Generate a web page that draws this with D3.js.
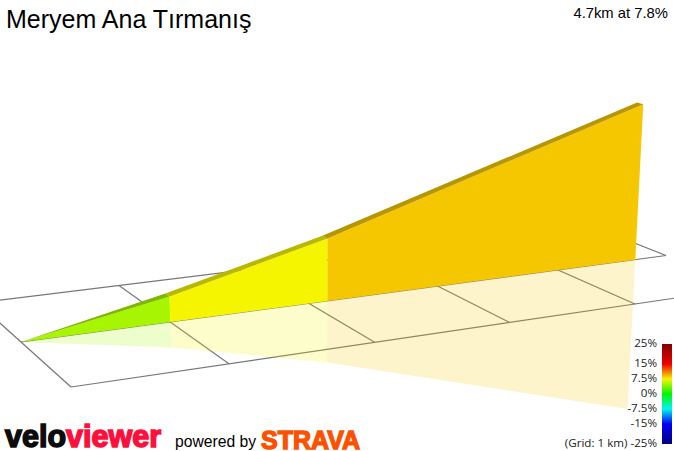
<!DOCTYPE html>
<html><head><meta charset="utf-8">
<script src="https://cdn.jsdelivr.net/npm/d3@7/dist/d3.min.js"></script>
<style>html,body{margin:0;padding:0;background:#fff;overflow:hidden}svg{display:block}</style>
</head><body><svg id="c" width="674" height="451"></svg>
<script>
// ---- data ----
const routeKm = [0, 1.0, 2.14, 4.68];
const routeElev = [0, 54, 137, 367];
const segmentGrade = [5.1, 7.5, 8.9];
const gridKmLines = [0, 1, 2, 3, 4];
const legendTicks = [25, 15, 7.5, 0, -7.5, -15, -25];
const legendColors = ["#800000", "#f00000", "#f5f500", "#00f500", "#00f5f5", "#0000f5", "#000080"];
const title = "Meryem Ana Tırmanış";
const summary = "4.7km at 7.8%";
// four ground-plane reference corners: (km 0, lane 0), (km 4, lane 0), (km 4, lane 1), (km 0, lane 1)
const groundCorners = [[21, 342], [558, 270], [635, 304], [71, 387]];

// ---- perspective of the ground plane ----
function homography(q) {
  const [[x0,y0],[x1,y1],[x2,y2],[x3,y3]] = q;
  const dx1=x1-x2, dx2=x3-x2, sx=x0-x1+x2-x3, dy1=y1-y2, dy2=y3-y2, sy=y0-y1+y2-y3;
  const den=dx1*dy2-dx2*dy1;
  const g=(sx*dy2-dx2*sy)/den, h=(dx1*sy-sx*dy1)/den;
  const a=x1-x0+g*x1, b=x3-x0+h*x3, d=y1-y0+g*y1, e=y3-y0+h*y3;
  return (u,v)=>{const w=g*u+h*v+1;return {x:(a*u+b*v+x0)/w,y:(d*u+e*v+y0)/w,w};};
}
const H = homography(groundCorners);
const kmScale = d3.scaleLinear().domain([0, 4]).range([0, 1]);
const elevScale = d3.scaleLinear().domain([0, 367]).range([0, 180]);
const vanishX = 327, vanishD = 6000, tilt = 0.02;
function project(km, lane, elev) {
  const b = H(kmScale(km), lane);
  const px = elevScale(elev) / (b.w * (1 - tilt * elev / 367));
  return [b.x + (b.x - vanishX) * px / vanishD, b.y - px];
}
const line = d3.line();

const gradeColor = d3.scaleLinear().domain(legendTicks).range(legendColors).interpolate(d3.interpolateRgb);
const svg = d3.select("#c");

// ---- ground grid ----
const grid = svg.append("g").attr("fill","none").attr("stroke","#777").attr("stroke-width",1.2);
const seg = (a,b)=>grid.append("path").attr("d",line([a,b]));
gridKmLines.forEach(k=>{ seg(project(k,-1,0), project(k,1,0)); });
seg(project(4.96,-1,0), project(4.96,0,0));
seg(project(0,-1,0), project(4.96,-1,0));
seg(project(0,0,0), project(4.96,0,0));
seg(project(0,1,0), project(6,1,0));

// ---- wall, reflection, top ribbon ----
const laneBack = -0.08;
const segs = segmentGrade.map((g,i)=>({g, k0:routeKm[i], k1:routeKm[i+1], e0:routeElev[i], e1:routeElev[i+1]}));
const refl = svg.append("g"), wall = svg.append("g"), rib = svg.append("g");
refl.selectAll("path").data(segs).join("path")
  .attr("d",s=>line([project(s.k0,0,0),project(s.k1,0,0),project(s.k1,0,-s.e1),project(s.k0,0,-s.e0)])+"Z")
  .attr("fill",s=>gradeColor(s.g)).attr("opacity",0.2);
wall.selectAll("path").data(segs).join("path")
  .attr("d",s=>line([project(s.k0,0,0),project(s.k1,0,0),project(s.k1,0,s.e1),project(s.k0,0,s.e0)])+"Z")
  .attr("fill",s=>gradeColor(s.g));
rib.selectAll("path").data(segs).join("path")
  .attr("d",s=>line([project(s.k0,0,s.e0),project(s.k1,0,s.e1),project(s.k1,laneBack,s.e1),project(s.k0,s.k0===0?0:laneBack,s.e0)])+"Z")
  .attr("fill",s=>d3.rgb(gradeColor(s.g)).darker(0.8));

// ---- titles ----
svg.append("text").attr("x",6).attr("y",28).text(title)
  .attr("font-family","Liberation Sans").attr("font-size",25).attr("fill","#000");
svg.append("text").attr("x",668).attr("y",18).attr("text-anchor","end").text(summary)
  .attr("font-family","Liberation Sans").attr("font-size",14.8).attr("fill","#000");

// ---- gradient legend ----
const legendY = d3.scaleLinear().domain([25,-25]).range([344,444]);
const lg = svg.append("defs").append("linearGradient").attr("id","lg").attr("x1",0).attr("x2",0).attr("y1",0).attr("y2",1);
legendTicks.forEach((t,i)=>lg.append("stop").attr("offset",(25-t)/50).attr("stop-color",legendColors[i]));
svg.append("rect").attr("x",662).attr("y",legendY(25)).attr("width",10)
  .attr("height",legendY(-25)-legendY(25)).attr("fill","url(#lg)");
const ax = svg.append("g").attr("transform","translate(657,-1)")
  .call(d3.axisLeft(legendY).tickValues(legendTicks).tickSize(0).tickPadding(0)
    .tickFormat(t=>(t===-25?"(Grid: 1 km) ":"")+t+"%"));
ax.select(".domain").remove();
ax.selectAll("text").attr("font-family","Open Sans").attr("font-size",11.6).attr("fill","#222");

// ---- footer marks ----
const velo = svg.append("text").attr("x",5).attr("y",447)
  .attr("font-family","Liberation Sans").attr("font-weight",700).attr("font-size",32)
  .attr("stroke-width",1.6).attr("textLength",156).attr("lengthAdjust","spacingAndGlyphs");
velo.append("tspan").text("velo").attr("fill","#0c0c0c").attr("stroke","#0c0c0c");
velo.append("tspan").text("viewer").attr("fill","#ff0f3c").attr("stroke","#ff0f3c");
svg.append("text").attr("x",175).attr("y",447).text("powered by")
  .attr("font-family","Liberation Sans").attr("font-size",15.7).attr("fill","#000");
svg.append("text").attr("x",261).attr("y",449).text("STRAVA")
  .attr("font-family","Liberation Sans").attr("font-weight",700).attr("font-size",26)
  .attr("fill","#fc5200").attr("stroke","#fc5200").attr("stroke-width",1.4)
  .attr("textLength",99).attr("lengthAdjust","spacingAndGlyphs");
</script></body></html>
